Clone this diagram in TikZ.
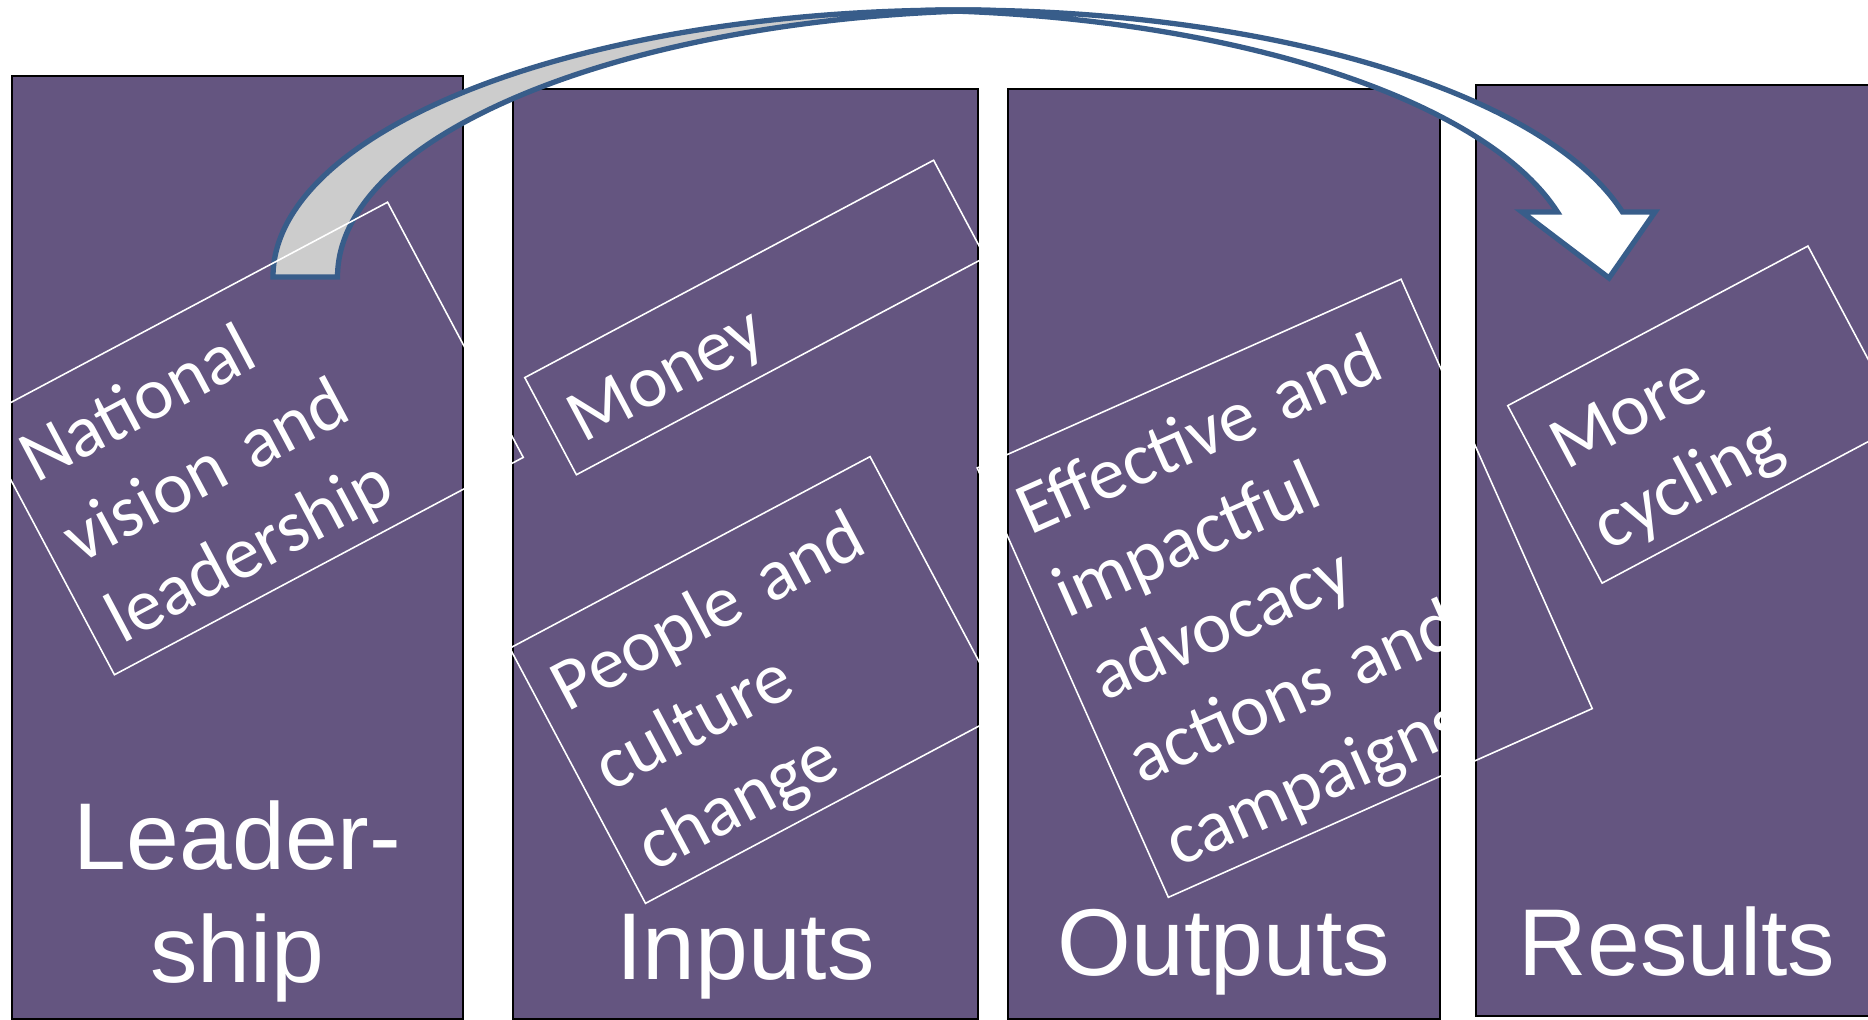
\documentclass[tikz,border=0pt]{standalone}
\usepackage{fontspec}
\newfontfamily\tagfont{Carlito}
\newfontfamily\stagefont{Liberation Sans}
\definecolor{panelpurple}{RGB}{100,85,128}
\definecolor{ribbonblue}{RGB}{56,93,138}
\definecolor{ribbongray}{RGB}{204,204,204}
\tikzset{
  panel/.style={draw=black, line width=0.6pt, fill=panelpurple},
  stage/.style={text=white, font={\stagefont\fontsize{27pt}{32pt}\selectfont},
    text width=4cm, align=center, inner sep=0pt, anchor=base},
  tag/.style={draw=white, line width=0.45pt, text=white,
    font={\tagfont\fontsize{21pt}{25.9pt}\selectfont},
    align=left, inner xsep=0.21cm, inner ysep=0pt, text height=0.73cm},
  ribbon/.style={draw=ribbonblue, line width=1.5pt}
}

\begin{document}
\begin{tikzpicture}
    \path[use as bounding box, clip] (0,0) rectangle (18.68,10.20);

    \draw[panel] (0.12,0.01) rectangle (4.63,9.44);
    \draw[panel] (5.13,0.01) rectangle (9.78,9.31);
    \draw[panel] (10.08,0.01) rectangle (14.40,9.31);
    \draw[panel] (14.76,0.04) rectangle (18.80,9.35);

    \node[stage] (lead) at (2.375,1.50) {Leader-\\ship};
    \node[stage] (inputs) at (7.455,0.40) {Inputs};
    \node[stage] (outputs) at (12.24,0.44) {Outputs};
    \node[stage] (results) at (16.77,0.44) {Results};

    % curved arrow: back strip, then front strip with the head
    \filldraw[ribbon, fill=ribbongray] (2.73,7.43)
      arc[start angle=180, end angle=87.3, x radius=6.85, y radius=2.67]
      arc[start angle=92.7, end angle=180, x radius=6.85, y radius=2.67] -- cycle;
    \filldraw[ribbon, fill=white] ([shift={(9.58,7.43)}]92.7:6.85 and 2.67)
      arc[start angle=92.7, end angle=14.09, x radius=6.85, y radius=2.67]
      -- (16.55,8.08) -- (16.09,7.42) -- (15.22,8.08) -- (15.574,8.08)
      arc[start angle=14.09, end angle=87.3, x radius=6.85, y radius=2.67] -- cycle;

    \node[tag, rotate=28, minimum width=4.63cm, minimum height=2.89cm, text width=4.21cm] (vision) at (2.51,5.815) {National\\vision and\\leadership};
    \node[tag, rotate=28, minimum width=4.63cm, minimum height=1.10cm, text width=4.21cm] (money) at (7.55,7.025) {Money};
    \node[tag, rotate=28, minimum width=4.08cm, minimum height=2.89cm, text width=3.66cm] (people) at (7.578,3.40) {People and\\culture\\change};
    \node[tag, rotate=24, minimum width=4.64cm, minimum height=4.70cm, text width=4.22cm] (advocacy) at (12.847,4.317) {Effective and\\impactful\\advocacy\\actions and\\campaigns};
    \node[tag, rotate=28, minimum width=3.40cm, minimum height=2.01cm, text width=2.98cm] (cycling) at (17.05,6.054) {More\\cycling};
\end{tikzpicture}
\end{document}
